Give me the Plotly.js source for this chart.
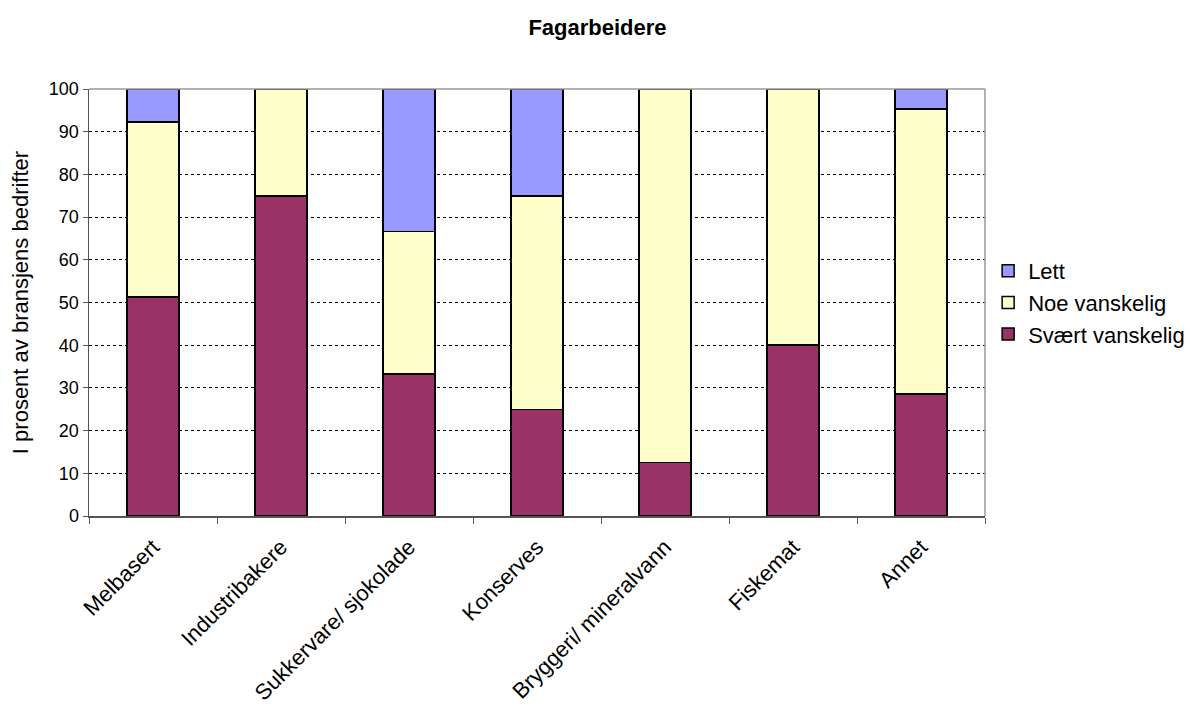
<!DOCTYPE html>
<html><head><meta charset="utf-8">
<script src="https://cdn.plot.ly/plotly-3.0.1.min.js"></script>
<style>html,body{margin:0;padding:0;background:#fff}</style>
</head><body>
<div id="chart" style="width:1195px;height:717px"></div>
<script>
const categories = ["Melbasert","Industribakere","Sukkervare/ sjokolade","Konserves","Bryggeri/ mineralvann","Fiskemat","Annet"];
const svaertVanskelig = [51.3, 75, 33.3, 25, 12.5, 40, 28.6];
const noeVanskelig = [41.0, 25, 33.3, 50, 87.5, 60, 66.7];
const lett = [7.7, 0, 33.4, 25, 0, 0, 4.7];
const yTicks = [0,10,20,30,40,50,60,70,80,90,100];

const line = {color:'#000', width:1.5};
const traces = [
  {type:'bar', name:'Svært vanskelig', x:categories, y:svaertVanskelig, marker:{color:'#993366', line}},
  {type:'bar', name:'Noe vanskelig', x:categories, y:noeVanskelig, marker:{color:'#FFFFCC', line}},
  {type:'bar', name:'Lett', x:categories, y:lett, marker:{color:'#9999FF', line}}
];
const layout = {
  width:1195, height:717,
  barmode:'stack', bargap:0.59,
  paper_bgcolor:'#fff', plot_bgcolor:'#fff',
  font:{family:'Liberation Sans, Arial, sans-serif', color:'#000', size:18},
  title:{text:'<b>Fagarbeidere</b>', x:0.5, xanchor:'center', y:0.962, yanchor:'middle', font:{size:22, family:'Liberation Sans, Arial, sans-serif'}},
  margin:{l:89, r:210, t:89, b:201, autoexpand:false},
  xaxis:{type:'category', tickangle:-45, tickson:'boundaries', ticks:'outside', ticklen:6, tickcolor:'#555',
    showline:true, linecolor:'#555', linewidth:1.5, mirror:false, showgrid:false, tickfont:{size:22},
    ticklabelstandoff:8, automargin:false},
  yaxis:{range:[0,100], tickvals:yTicks, ticks:'outside', ticklen:5, tickcolor:'#555',
    showline:true, linecolor:'#555', linewidth:1.5, showgrid:true, gridcolor:'#000', griddash:'dot', gridwidth:1,
    zeroline:false, tickfont:{size:18}, automargin:false,
    title:{text:'I prosent av bransjens bedrifter', font:{size:22}, standoff:14}},
  legend:{x:1.0035, xanchor:'left', y:0.5, yanchor:'middle', traceorder:'reversed', font:{size:22}, tracegroupgap:0, itemwidth:20},
  shapes:[
    {type:'line', xref:'paper', yref:'paper', x0:0, x1:1, y0:1, y1:1, line:{color:'#999', width:1.5}},
    {type:'line', xref:'paper', yref:'paper', x0:1, x1:1, y0:0, y1:1, line:{color:'#999', width:1.5}}
  ]
};
Plotly.newPlot('chart', traces, layout, {displayModeBar:false, staticPlot:true});
</script>
</body></html>
